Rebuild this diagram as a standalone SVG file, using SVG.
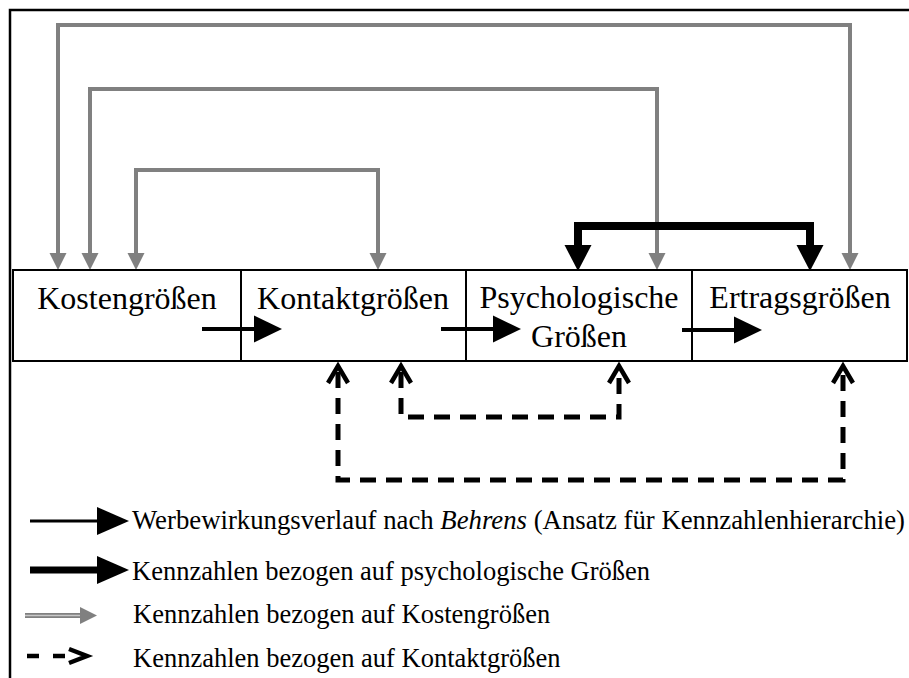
<svg xmlns="http://www.w3.org/2000/svg" width="909" height="678" viewBox="0 0 909 678">
<style>
.box{fill:#fff;stroke:#000;stroke-width:2}
.lbl{font-family:"Liberation Serif","Times New Roman",serif;font-size:32px;fill:#000;text-anchor:middle}
.leg{font-family:"Liberation Serif","Times New Roman",serif;font-size:26.5px;fill:#000}
.gray{fill:none;stroke:#808080;stroke-width:4}
.thick{fill:none;stroke:#000;stroke-width:8}
.flow{fill:none;stroke:#000;stroke-width:4}
.dash{fill:none;stroke:#000;stroke-width:5;stroke-dasharray:16 10}
.chev{fill:none;stroke:#000;stroke-width:4.5;stroke-miterlimit:10}
</style>
<defs>
<marker id="mg" markerUnits="userSpaceOnUse" markerWidth="18" markerHeight="18" refX="0" refY="8.5" orient="auto" overflow="visible"><path d="M0,0 L17,8.5 L0,17 Z" fill="#808080"/></marker>
<marker id="mb" markerUnits="userSpaceOnUse" markerWidth="28" markerHeight="28" refX="0" refY="13.5" orient="auto" overflow="visible"><path d="M0,0 L26,13.5 L0,27 Z" fill="#000"/></marker>
<marker id="mf" markerUnits="userSpaceOnUse" markerWidth="30" markerHeight="30" refX="0" refY="13.5" orient="auto" overflow="visible"><path d="M0,0 L28,13.5 L0,27 Z" fill="#000"/></marker>
</defs>
<rect x="10" y="10" width="920" height="690" fill="none" stroke="#000" stroke-width="2.5"/>

<g id="connectors">
<path class="gray" d="M850,253 V25 H58 V253" marker-end="url(#mg)"/>
<path class="gray" d="M58,25 H850 V253" marker-end="url(#mg)"/>
<path class="gray" d="M657,253 V89 H90 V253" marker-end="url(#mg)"/>
<path class="gray" d="M90,89 H657 V253" marker-end="url(#mg)"/>
<path class="gray" d="M378,253 V170 H136 V253" marker-end="url(#mg)"/>
<path class="gray" d="M136,170 H378 V253" marker-end="url(#mg)"/>
<path class="thick" d="M810,245 V226 H578 V245" marker-end="url(#mb)"/>
<path class="thick" d="M578,226 H810 V245" marker-end="url(#mb)"/>
</g>

<g id="kosten"><rect class="box" x="13" y="270" width="228" height="91"/><text class="lbl" x="127" y="309">Kostengrößen</text></g>
<g id="kontakt"><rect class="box" x="241" y="270" width="225" height="91"/><text class="lbl" x="353" y="309">Kontaktgrößen</text></g>
<g id="psycho"><rect class="box" x="466" y="270" width="226" height="91"/><text class="lbl" x="579" y="308">Psychologische</text><text class="lbl" x="579" y="347">Größen</text></g>
<g id="ertrag"><rect class="box" x="692" y="270" width="215" height="91"/><text class="lbl" x="800" y="308">Ertragsgrößen</text></g>

<g id="flow">
<path class="flow" d="M202,329 H254" marker-end="url(#mf)"/>
<path class="flow" d="M441,329 H493" marker-end="url(#mf)"/>
<path class="flow" d="M682,330 H734" marker-end="url(#mf)"/>
</g>

<g id="dashed">
<path class="dash" d="M338,372 V480 H843 V372"/>
<path class="dash" d="M401,372 V417 H619 V372"/>
<path class="chev" d="M328,383 L338,366 L348,383"/>
<path class="chev" d="M391,383 L401,366 L411,383"/>
<path class="chev" d="M609,383 L619,366 L629,383"/>
<path class="chev" d="M833,383 L843,366 L853,383"/>
</g>

<g id="legend">
<path d="M30,521 H100" stroke="#000" stroke-width="3" fill="none"/>
<path d="M97,507 L129,521 L97,535 Z" fill="#000"/>
<text class="leg" x="132" y="529" textLength="773" lengthAdjust="spacingAndGlyphs">Werbewirkungsverlauf nach <tspan font-style="italic">Behrens</tspan> (Ansatz für Kennzahlenhierarchie)</text>
<path d="M30,570 H100" stroke="#000" stroke-width="7" fill="none"/>
<path d="M97,556 L129,570 L97,584 Z" fill="#000"/>
<text class="leg" x="132" y="580">Kennzahlen bezogen auf psychologische Größen</text>
<path d="M25,615.5 H82" stroke="#808080" stroke-width="5" fill="none"/>
<path d="M25,615.5 H82" stroke="#c8c8c8" stroke-width="1.5" fill="none"/>
<path d="M80,607 L97,615.5 L80,624 Z" fill="#808080"/>
<text class="leg" x="133" y="623">Kennzahlen bezogen auf Kostengrößen</text>
<path d="M27,656 H39 M53,656 H65" stroke="#000" stroke-width="4.5" fill="none"/>
<path d="M69,649 L87,656 L69,663" stroke="#000" stroke-width="4.5" fill="none"/>
<text class="leg" x="133" y="667">Kennzahlen bezogen auf Kontaktgrößen</text>
</g>
</svg>
